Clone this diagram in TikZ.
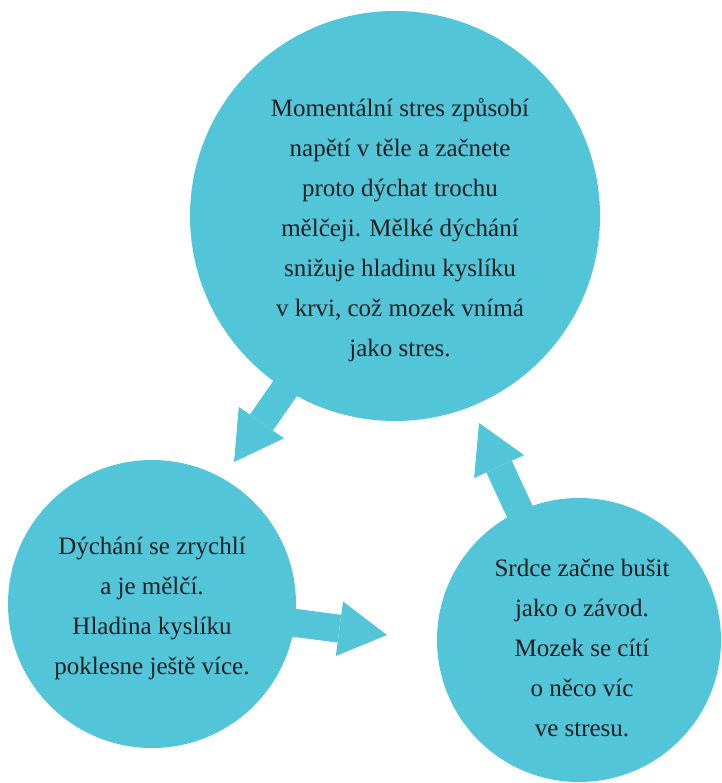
\documentclass[tikz,border=0pt]{standalone}
\usepackage{fontspec}
\setmainfont{Liberation Serif}
\usetikzlibrary{arrows.meta,backgrounds}
\definecolor{bubble}{RGB}{82,197,217}
\definecolor{ink}{RGB}{35,31,32}
\tikzset{
  bub/.style={circle,fill=bubble,inner sep=0pt,minimum size=#1},
  txt/.style={text=ink,align=center,inner sep=0pt,font=\fontsize{25}{40}\selectfont},
  flow/.style={draw=bubble,line width=28pt,-{Triangle[length=48pt,width=55pt,line width=0pt]}}
}
\begin{document}
\begin{tikzpicture}[x=1pt,y=-1pt]
\useasboundingbox (0,0) rectangle (721,783);
\node[bub=410pt] (top) at (395,216) {};
\node[bub=288pt] (left) at (152,604) {};
\node[bub=284pt] (right) at (579,640) {};
\node[txt] (ttop) at (400,230.5) {Momentální stres způsobí\\napětí v těle a začnete\\proto dýchat trochu\\mělčeji. Mělké dýchání\\snižuje hladinu kyslíku\\v krvi, což mozek vnímá\\jako stres.};
\node[txt] (tleft) at (152,608) {Dýchání se zrychlí\\a je mělčí.\\Hladina kyslíku\\poklesne ještě více.};
\node[txt] (tright) at (582,647.5) {Srdce začne bušit\\jako o závod.\\Mozek se cítí\\o něco víc\\ve stresu.};
\coordinate (tip1) at (234,462);
\coordinate (tip2) at (387,635);
\coordinate (tip3) at (479,423);
\begin{scope}[on background layer]
\draw[flow] ([xshift=10pt]top.center) -- (tip1);
\draw[flow] (left.center) -- (tip2);
\draw[flow] (right.center) -- (tip3);
\end{scope}
\end{tikzpicture}
\end{document}
